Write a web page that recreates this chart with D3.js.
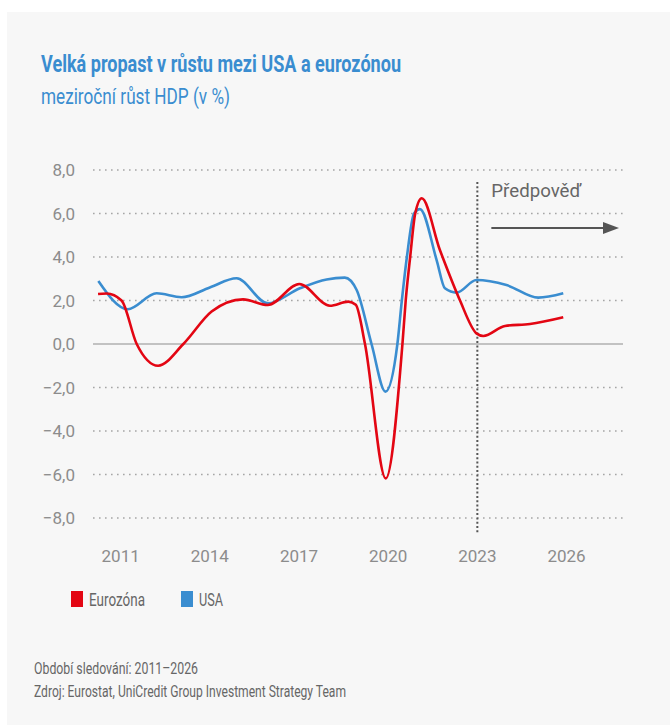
<!DOCTYPE html>
<html>
<head>
<meta charset="utf-8">
<script src="https://cdn.jsdelivr.net/npm/d3@7"></script>
<style>
  body { margin: 0; background: #fff; }
  svg text { font-family: Roboto, "Liberation Sans", sans-serif; }
</style>
</head>
<body>
<svg id="chart" width="670" height="725"></svg>
<script>
// years (decimal) and yoy GDP growth in %
const euroYears = [2010.24, 2010.53, 2011.03, 2011.54, 2012.26, 2013.11, 2014.06, 2015.12, 2015.95,
  2017.01, 2018.04, 2018.66, 2018.91, 2019.22, 2019.92, 2020.48, 2020.59, 2020.74, 2020.91, 2021.13,
  2021.74, 2021.91, 2022.41, 2022.97, 2023.20, 2023.93, 2024.77, 2025.89]
const euroVals = [2.3, 2.32, 2.0, 0.0, -1.0, 0.0, 1.49, 2.05, 1.79,
  2.76, 1.76, 1.95, 1.8, 0.0, -6.18, 0.0, 2.0, 4.0, 6.0, 6.7,
  4.32, 3.71, 2.02, 0.49, 0.37, 0.83, 0.92, 1.23]

const usaYears = [2010.25, 2011.24, 2012.21, 2013.05, 2014.0, 2014.9, 2015.95, 2017.03, 2017.93,
  2018.54, 2018.94, 2019.44, 2019.91, 2020.31, 2020.46, 2020.63, 2020.87, 2021.07, 2021.63, 2021.91,
  2022.3, 2022.97, 2023.98, 2025.05, 2025.89]
const usaVals = [2.9, 1.6, 2.33, 2.15, 2.6, 3.02, 1.87, 2.56, 2.97,
  3.05, 2.48, 0.0, -2.19, 0.0, 2.0, 4.0, 6.0, 6.2, 3.86, 2.56,
  2.36, 2.94, 2.71, 2.13, 2.33]

const yTicks = [8, 6, 4, 2, 0, -2, -4, -6, -8]
const xTicks = [2011, 2014, 2017, 2020, 2023, 2026]
const forecastYear = 2023
const seriesNames = ["Eurozóna", "USA"]
const seriesColors = ["#e30613", "#3a8dd0"]

const svg = d3.select("#chart")

svg.append("rect")
  .attr("x", 7).attr("y", 12)
  .attr("width", 663).attr("height", 713)
  .attr("fill", "#f7f7f7")

svg.append("text")
  .attr("x", 41).attr("y", 72)
  .attr("fill", "#3a8dd0")
  .attr("font-size", 24).attr("font-weight", "bold")
  .attr("textLength", 360).attr("lengthAdjust", "spacingAndGlyphs")
  .text("Velká propast v růstu mezi USA a eurozónou")

svg.append("text")
  .attr("x", 41).attr("y", 104)
  .attr("fill", "#3a8dd0")
  .attr("font-size", 22)
  .attr("textLength", 189).attr("lengthAdjust", "spacingAndGlyphs")
  .text("meziroční růst HDP (v %)")

var x = d3.scaleLinear().domain([2010.07, 2027.9]).range([93, 623])
var y = d3.scaleLinear().domain([-8, 8]).range([518, 170])

// grid
svg.append("g").selectAll("line")
  .data(yTicks.filter(d => d != 0))
  .enter().append("line")
    .attr("x1", x.range()[0]).attr("x2", x.range()[1])
    .attr("y1", d => y(d)).attr("y2", d => y(d))
    .attr("stroke", "#a6a6a6")
    .attr("stroke-width", 1.6)
    .attr("stroke-dasharray", "1.6,4.4")

svg.append("line")
  .attr("x1", x.range()[0]).attr("x2", x.range()[1])
  .attr("y1", y(0)).attr("y2", y(0))
  .attr("stroke", "#b0b0b0")
  .attr("stroke-width", 1.5)

svg.append("g").selectAll("text")
  .data(yTicks)
  .enter().append("text")
    .attr("x", 75)
    .attr("y", d => y(d) + 6)
    .attr("text-anchor", "end")
    .attr("fill", "#8c8c8c")
    .attr("font-size", 17)
    .text(d => (d < 0 ? "\u2212" : "") + Math.abs(d).toFixed(1).replace(".", ","))

svg.append("g").selectAll("text")
  .data(xTicks)
  .enter().append("text")
    .attr("x", d => x(d))
    .attr("y", 562)
    .attr("text-anchor", "middle")
    .attr("fill", "#8c8c8c")
    .attr("font-size", 17)
    .text(d => d)

// forecast marker
svg.append("line")
  .attr("x1", x(forecastYear)).attr("x2", x(forecastYear))
  .attr("y1", 182).attr("y2", 534)
  .attr("stroke", "#555")
  .attr("stroke-width", 2)
  .attr("stroke-dasharray", "2,2.3")

svg.append("text")
  .attr("x", x(forecastYear) + 14).attr("y", 197)
  .attr("fill", "#666")
  .attr("font-size", 18)
  .attr("textLength", 90).attr("lengthAdjust", "spacingAndGlyphs")
  .text("Předpověď")

svg.append("line")
  .attr("x1", x(forecastYear) + 14).attr("x2", 605)
  .attr("y1", 228).attr("y2", 228)
  .attr("stroke", "#555").attr("stroke-width", 2)

svg.append("path")
  .attr("d", "M603,222L619,228L603,234Z")
  .attr("fill", "#555")

// lines
var line = d3.line()
  .x(d => x(d[0]))
  .y(d => y(d[1]))
  .curve(d3.curveMonotoneX)

var series = [
  { name: seriesNames[1], color: seriesColors[1], pts: d3.zip(usaYears, usaVals) },
  { name: seriesNames[0], color: seriesColors[0], pts: d3.zip(euroYears, euroVals) }
]

svg.append("g").selectAll("path")
  .data(series)
  .enter().append("path")
    .attr("d", d => line(d.pts))
    .attr("fill", "none")
    .attr("stroke", d => d.color)
    .attr("stroke-width", 2.6)
    .attr("stroke-linejoin", "round")

// legend
var legendX = [71, 181]
var legendW = [56, 24]
var leg = svg.append("g").selectAll("g")
  .data(seriesNames)
  .enter().append("g")
    .attr("transform", (d, i) => "translate(" + legendX[i] + ",591)")

leg.append("rect")
  .attr("width", 12).attr("height", 16)
  .attr("fill", (d, i) => seriesColors[i])

leg.append("text")
  .attr("x", 18).attr("y", 15)
  .attr("fill", "#666")
  .attr("font-size", 18)
  .attr("textLength", (d, i) => legendW[i]).attr("lengthAdjust", "spacingAndGlyphs")
  .text(d => d)

// footer
svg.append("text")
  .attr("x", 34).attr("y", 674)
  .attr("fill", "#666")
  .attr("font-size", 16)
  .attr("textLength", 164).attr("lengthAdjust", "spacingAndGlyphs")
  .text("Období sledování: 2011–2026")

svg.append("text")
  .attr("x", 34).attr("y", 697)
  .attr("fill", "#666")
  .attr("font-size", 16)
  .attr("textLength", 312).attr("lengthAdjust", "spacingAndGlyphs")
  .text("Zdroj: Eurostat, UniCredit Group Investment Strategy Team")
</script>
</body>
</html>
